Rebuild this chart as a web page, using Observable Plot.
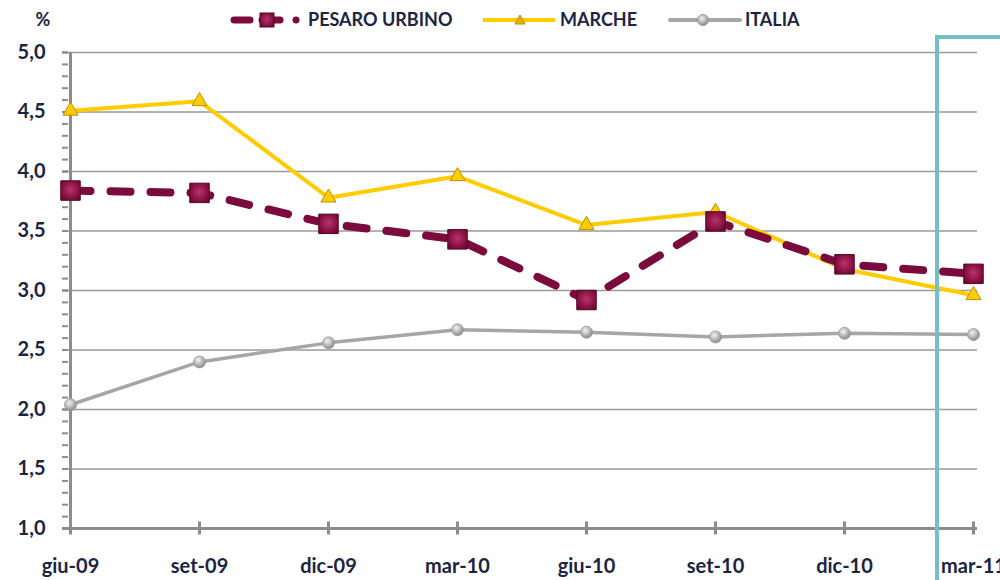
<!DOCTYPE html>
<html><head><meta charset="utf-8">
<script src="https://cdn.jsdelivr.net/npm/d3@7"></script>
<script src="https://cdn.jsdelivr.net/npm/@observablehq/plot@0.6"></script>
<style>
html,body{margin:0;padding:0;background:#fff;overflow:hidden;}
#chart{position:relative;width:1000px;height:580px;overflow:hidden;}
</style></head>
<body><div id="chart"></div>
<script>
const periods = ["giu-09","set-09","dic-09","mar-10","giu-10","set-10","dic-10","mar-11"];
const pesaro = [3.84,3.82,3.56,3.43,2.92,3.58,3.22,3.14];
const marche = [4.51,4.59,3.78,3.96,3.55,3.66,3.18,2.96];
const italia = [2.04,2.40,2.56,2.67,2.65,2.61,2.64,2.63];
const seriesNames = ["PESARO URBINO","MARCHE","ITALIA"];
const majorTicks = [1,1.5,2,2.5,3,3.5,4,4.5,5];
const minorTicks = d3.range(10,51).map(d => d/10);

const rows = (vals) => periods.map((p,i) => ({period:p, value:vals[i]}));
const P = rows(pesaro), M = rows(marche), I = rows(italia);

const FONT = "Lato, 'Open Sans', sans-serif";
const TXT = "#1c2444";
const MAROON = "#7a0b3c", YELLOW = "#ffcc00", GRAY = "#a6a6a6", AXIS = "#8c8c8c";

const defs = () => {
  const g = d3.create("svg:defs");
  const sq = g.append("radialGradient").attr("id","gSq").attr("cx","50%").attr("cy","45%").attr("r","70%");
  sq.append("stop").attr("offset","0%").attr("stop-color","#b8336a");
  sq.append("stop").attr("offset","55%").attr("stop-color","#8e1447");
  sq.append("stop").attr("offset","100%").attr("stop-color","#5e0628");
  const ci = g.append("radialGradient").attr("id","gCi").attr("cx","40%").attr("cy","35%").attr("r","65%");
  ci.append("stop").attr("offset","0%").attr("stop-color","#f4f4f4");
  ci.append("stop").attr("offset","100%").attr("stop-color","#8a8a8a");
  return g.node();
};

const chart = Plot.plot({
  width: 1000, height: 580,
  marginLeft: 68, marginRight: 25, marginTop: 52, marginBottom: 52,
  style: {fontFamily: FONT, background: "#fff", overflow: "visible"},
  x: {type: "point", domain: periods, padding: 0, axis: null, label: null},
  y: {domain: [1,5], axis: null, label: null},
  marks: [
    defs,
    Plot.gridY(majorTicks.slice(1), {stroke: "#9a9a9a", strokeOpacity: 1, strokeWidth: 1.6, insetLeft: -6, insetRight: -2}),
    Plot.axisY({ticks: minorTicks, tickSize: 6, stroke: AXIS, strokeWidth: 2, tickFormat: () => "", label: null}),
    Plot.axisY({ticks: majorTicks, tickSize: 6, tickPadding: 17, stroke: AXIS, strokeWidth: 2, label: null,
      tickFormat: d => d.toFixed(1).replace(".", ","), fontSize: 20, fontWeight: "bold", fill: TXT}),
    Plot.ruleX([periods[0]], {stroke: AXIS, strokeWidth: 3}),
    Plot.ruleY([1], {stroke: AXIS, strokeWidth: 3, insetLeft: -6, insetRight: -2}),
    Plot.ruleX(periods, {x: d => d, y1: 0.945, y2: 1.055, stroke: AXIS, strokeWidth: 3}),
    Plot.axisX({tickSize: 0, tickPadding: 30, fontSize: 20, fontWeight: "bold", fill: TXT, label: null}),
    // ITALIA
    Plot.line(I, {x: "period", y: "value", stroke: GRAY, strokeWidth: 3.5}),
    Plot.dot(I, {x: "period", y: "value", r: 6, fill: "url(#gCi)", stroke: "#9a9a9a", strokeWidth: 0.8}),
    // MARCHE
    Plot.line(M, {x: "period", y: "value", stroke: YELLOW, strokeWidth: 4}),
    Plot.dot(M, {x: "period", y: "value", symbol: "triangle", r: 5.6, fill: YELLOW, stroke: "#b8900a", strokeWidth: 1}),
    // PESARO URBINO
    Plot.line(P, {x: "period", y: "value", stroke: MAROON, strokeWidth: 8, strokeDasharray: "20,20", strokeLinecap: "round"}),
    Plot.dot(P, {x: "period", y: "value", symbol: "square", r: 11, fill: "url(#gSq)", stroke: "#5a0526", strokeWidth: 1})
  ]
});
document.getElementById("chart").appendChild(chart);

const svg = d3.select(chart);
const xs = chart.scale("x");
const xL = xs.apply(periods[6]), xR = xs.apply(periods[7]);
const xBox = xL + 0.69 * (xR - xL) + 4;
svg.append("path").attr("d", `M${xBox},590 V37 H1010`).attr("fill","none").attr("stroke","#74bfc6").attr("stroke-width",4);

// % label
svg.append("text").attr("x", 43).attr("y", 26).attr("text-anchor","middle")
  .attr("font-family", FONT).attr("font-weight","bold").attr("font-size",18).attr("fill",TXT).text("%");

// legend
const lg = svg.append("g").attr("font-family", FONT).attr("font-weight","bold").attr("font-size",18)
  .attr("fill",TXT).attr("text-anchor","start");
const ly = 20;
// pesaro
lg.append("line").attr("x1",234).attr("x2",250).attr("y1",ly).attr("y2",ly).attr("stroke",MAROON).attr("stroke-width",7).attr("stroke-linecap","round");
lg.append("line").attr("x1",262).attr("x2",280).attr("y1",ly).attr("y2",ly).attr("stroke",MAROON).attr("stroke-width",7).attr("stroke-linecap","round");
lg.append("rect").attr("x",260).attr("y",ly-7).attr("width",14).attr("height",14).attr("fill","url(#gSq)").attr("stroke","#5a0526");
lg.append("circle").attr("cx",296).attr("cy",ly).attr("r",3.5).attr("fill",MAROON);
lg.append("text").attr("x",308).attr("y",ly+6).text(seriesNames[0]);
// marche
lg.append("line").attr("x1",483).attr("x2",555).attr("y1",ly).attr("y2",ly).attr("stroke",YELLOW).attr("stroke-width",4);
lg.append("path").attr("d",`M${520-5},${ly+4} L520,${ly-5} L${520+5},${ly+4} Z`).attr("fill","#e0b400").attr("stroke","#b8900a");
lg.append("text").attr("x",560).attr("y",ly+6).text(seriesNames[1]);
// italia
lg.append("line").attr("x1",670).attr("x2",740).attr("y1",ly).attr("y2",ly).attr("stroke",GRAY).attr("stroke-width",4).attr("stroke-linecap","round");
lg.append("circle").attr("cx",703).attr("cy",ly).attr("r",5.5).attr("fill","url(#gCi)").attr("stroke","#999");
lg.append("text").attr("x",745).attr("y",ly+6).text(seriesNames[2]);
</script>
</body></html>
